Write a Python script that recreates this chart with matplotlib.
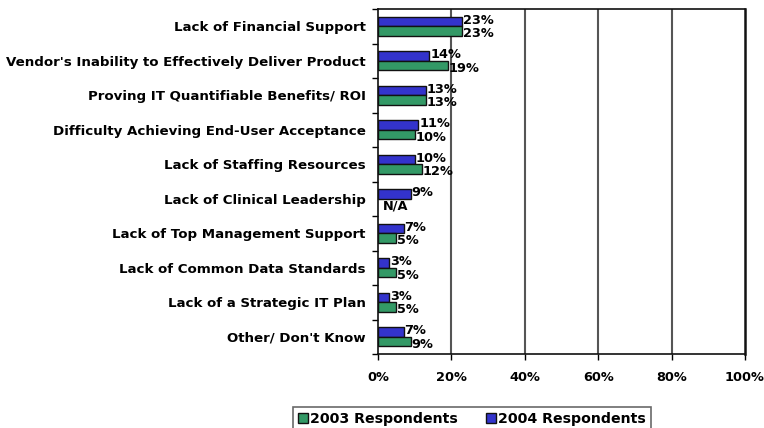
import matplotlib
matplotlib.use("Agg")
import matplotlib.pyplot as plt
import numpy as np
from matplotlib.patches import Patch

categories = [
    "Lack of Financial Support",
    "Vendor's Inability to Effectively Deliver Product",
    "Proving IT Quantifiable Benefits/ ROI",
    "Difficulty Achieving End-User Acceptance",
    "Lack of Staffing Resources",
    "Lack of Clinical Leadership",
    "Lack of Top Management Support",
    "Lack of Common Data Standards",
    "Lack of a Strategic IT Plan",
    "Other/ Don't Know",
]
resp_2004 = [23, 14, 13, 11, 10, 9, 7, 3, 3, 7]
resp_2003 = [23, 19, 13, 10, 12, None, 5, 5, 5, 9]
xticks = [0, 20, 40, 60, 80, 100]

plt.rcParams['font.family'] = ['DejaVu Sans']
FS = 9.3
fig = plt.figure(figsize=(7.64, 4.28), dpi=100)
ax = fig.add_axes([378/764, 1 - 354/428, (745-378)/764, (354-9)/428])

blue = '#3333cc'
green = '#339966'
n = len(categories)
y = np.arange(n)
h = 0.28
for i in range(n):
    v4 = resp_2004[i]
    ax.barh(i - h/2, v4, height=h, color=blue, edgecolor='#111111', linewidth=1, zorder=3)
    ax.text(v4 + 0.2, i - h/2 - 0.04, f"{v4}%", fontsize=FS, fontweight='bold', va='center', ha='left', zorder=4)
    v3 = resp_2003[i]
    if v3 is None:
        ax.text(1.2, i + h/2 + 0.08, "N/A", fontsize=FS, fontweight='bold', va='center', ha='left', zorder=4)
    else:
        ax.barh(i + h/2, v3, height=h, color=green, edgecolor='#111111', linewidth=1, zorder=3)
        ax.text(v3 + 0.2, i + h/2 + 0.08, f"{v3}%", fontsize=FS, fontweight='bold', va='center', ha='left', zorder=4)

ax.set_ylim(n - 0.5, -0.5)
ax.set_xlim(0, 100)
ax.set_yticks(y)
ax.set_yticklabels(categories, fontsize=9.6, fontweight='bold')
ax.tick_params(axis='y', length=0, pad=9)
ax.set_yticks(np.arange(n + 1) - 0.5, minor=True)
ax.tick_params(axis='y', which='minor', length=4, width=1, direction='out')
ax.set_xticks(xticks)
ax.set_xticklabels([f"{t}%" for t in xticks], fontsize=FS, fontweight='bold')
ax.tick_params(axis='x', length=4, width=1, direction='out', pad=8)
for t in xticks[1:-1]:
    ax.axvline(t, color='#555555', linewidth=1.5, zorder=1)
for s in ax.spines.values():
    s.set_color('#111111')
    s.set_linewidth(1.2)
ax.spines['right'].set_linewidth(1.8)

handles = [Patch(facecolor=green, edgecolor='#111111', label='2003 Respondents'),
           Patch(facecolor=blue, edgecolor='#111111', label='2004 Respondents')]
leg = fig.legend(handles=handles, loc='upper left', bbox_to_anchor=(293/764, 1 - 407/428),
                 ncol=2, frameon=True, fancybox=False,
                 prop={'weight': 'bold', 'size': 10.2}, handlelength=0.7, handleheight=0.7,
                 handletextpad=0.15, columnspacing=2.0, borderpad=0.35, borderaxespad=0)
leg.get_frame().set_edgecolor('#444444')
leg.get_frame().set_linewidth(1.2)

fig.savefig("out.png", dpi=100)
